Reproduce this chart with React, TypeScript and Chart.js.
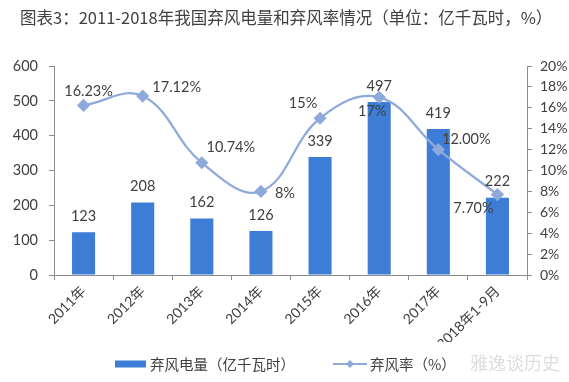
import React, { useEffect, useRef } from 'react';
import { Chart, registerables } from 'chart.js';

Chart.register(...registerables);

const titleText = '图表3：2011-2018年我国弃风电量和弃风率情况（单位：亿千瓦时，%）';
const categories = ['2011年', '2012年', '2013年', '2014年', '2015年', '2016年', '2017年', '2018年1-9月'];
const curtailedPower = [123, 208, 162, 126, 339, 497, 419, 222];
const curtailmentRate = [16.23, 17.12, 10.74, 8, 15, 17, 12.0, 7.7];
const rateLabels = ['16.23%', '17.12%', '10.74%', '8%', '15%', '17%', '12.00%', '7.70%'];
const powerLegend = '弃风电量（亿千瓦时）';
const rateLegend = '弃风率（%）';
const watermark = '雅逸谈历史';

// label placement offsets (style, not data)
const rateLabelOffsets: [number, number][] = [
  [5, -14], [34, -9], [29, -15], [24, 2], [-17, -15], [-7, 14], [28, -10], [-24, 14],
];

const BAR_COLOR = '#3d7dd6';
const LINE_COLOR = '#8eaadb';
const TEXT_COLOR = '#404040';
const AXIS_COLOR = '#8c8c8c';
const NUM_FONT = 'Lato, "Noto Sans CJK SC", sans-serif';
const CJK_FONT = '"Noto Sans CJK SC", sans-serif';

const overlayPlugin = {
  id: 'overlay',
  afterDatasetsDraw(chart: any) {
    const ctx = chart.ctx;
    ctx.save();
    ctx.font = `14.5px ${NUM_FONT}`;
    ctx.fillStyle = TEXT_COLOR;
    ctx.textAlign = 'center';
    ctx.textBaseline = 'middle';
    const barMeta = chart.getDatasetMeta(1);
    barMeta.data.forEach((el: any, i: number) => {
      ctx.fillText(String(curtailedPower[i]), el.x, el.y - 16);
    });
    const lineMeta = chart.getDatasetMeta(0);
    lineMeta.data.forEach((el: any, i: number) => {
      const [dx, dy] = rateLabelOffsets[i];
      ctx.fillText(rateLabels[i], el.x + dx, el.y + dy);
    });
    ctx.restore();
  },
  afterDraw(chart: any) {
    const ctx = chart.ctx;
    ctx.save();
    // title
    ctx.font = `16.5px ${CJK_FONT}`;
    ctx.fillStyle = TEXT_COLOR;
    ctx.textAlign = 'left';
    ctx.textBaseline = 'middle';
    ctx.fillText(titleText, 20, 18);
    // legend
    const ly = 364;
    ctx.fillStyle = BAR_COLOR;
    ctx.fillRect(115, ly - 3.5, 31, 7);
    ctx.fillStyle = TEXT_COLOR;
    ctx.font = `14.5px ${CJK_FONT}`;
    ctx.fillText(powerLegend, 150, ly);
    ctx.strokeStyle = LINE_COLOR;
    ctx.lineWidth = 2;
    ctx.beginPath();
    ctx.moveTo(333, ly);
    ctx.lineTo(367, ly);
    ctx.stroke();
    ctx.fillStyle = LINE_COLOR;
    ctx.beginPath();
    ctx.moveTo(350, ly - 4);
    ctx.lineTo(354, ly);
    ctx.lineTo(350, ly + 4);
    ctx.lineTo(346, ly);
    ctx.closePath();
    ctx.fill();
    ctx.fillStyle = TEXT_COLOR;
    ctx.fillText(rateLegend, 370, ly);
    // watermark
    ctx.fillStyle = 'rgba(180,180,180,0.45)';
    ctx.font = `18px ${CJK_FONT}`;
    ctx.fillText(watermark, 470, ly - 1);
    ctx.restore();
  },
};

export default function App() {
  const canvasRef = useRef<HTMLCanvasElement>(null);

  useEffect(() => {
    if (!canvasRef.current) return;
    const chart = new Chart(canvasRef.current, {
      type: 'bar',
      data: {
        labels: categories,
        datasets: [
          {
            type: 'line',
            label: rateLegend,
            data: curtailmentRate,
            yAxisID: 'y1',
            borderColor: LINE_COLOR,
            backgroundColor: LINE_COLOR,
            borderWidth: 2.25,
            tension: 0.4,
            pointStyle: 'rectRot',
            pointRadius: 5,
            pointBackgroundColor: LINE_COLOR,
            pointBorderColor: LINE_COLOR,
            order: 0,
          } as any,
          {
            type: 'bar',
            label: powerLegend,
            data: curtailedPower,
            yAxisID: 'y',
            backgroundColor: BAR_COLOR,
            barPercentage: 0.39,
            categoryPercentage: 1,
            order: 1,
          },
        ],
      },
      options: {
        responsive: false,
        animation: false,
        layout: { padding: { top: 66, bottom: 40, left: 0, right: 0 } },
        plugins: {
          legend: { display: false },
          title: { display: false },
          tooltip: { enabled: false },
        },
        scales: {
          x: {
            afterFit: (s: any) => { s.height = 67; },
            grid: { display: true, drawOnChartArea: false, drawTicks: true, tickLength: 5, color: AXIS_COLOR, offset: true },
            border: { display: true, color: AXIS_COLOR },
            ticks: {
              minRotation: 45,
              maxRotation: 45,
              color: TEXT_COLOR,
              padding: 3,
              font: { size: 14, family: NUM_FONT },
            },
          },
          y: {
            position: 'left',
            min: 0,
            max: 600,
            afterFit: (s: any) => { s.width = 54; },
            grid: { display: true, drawOnChartArea: false, drawTicks: true, tickLength: 5, color: AXIS_COLOR },
            border: { display: true, color: AXIS_COLOR },
            ticks: { stepSize: 100, color: TEXT_COLOR, padding: 11, font: { size: 14.5, family: NUM_FONT } },
          },
          y1: {
            position: 'right',
            min: 0,
            max: 20,
            afterFit: (s: any) => { s.width = 42; },
            grid: { display: true, drawOnChartArea: false, drawTicks: true, tickLength: 5, color: AXIS_COLOR },
            border: { display: true, color: AXIS_COLOR },
            ticks: {
              stepSize: 2,
              color: TEXT_COLOR,
              padding: 8,
              font: { size: 14, family: NUM_FONT },
              callback: (v: any) => `${v}%`,
            },
          },
        },
      } as any,
      plugins: [overlayPlugin],
    });
    return () => chart.destroy();
  }, []);

  return (
    <div style={{ position: 'absolute', left: 0, top: 0, width: 569, height: 382, background: '#fff' }}>
      <canvas ref={canvasRef} width={569} height={382} style={{ display: 'block' }} />
    </div>
  );
}
